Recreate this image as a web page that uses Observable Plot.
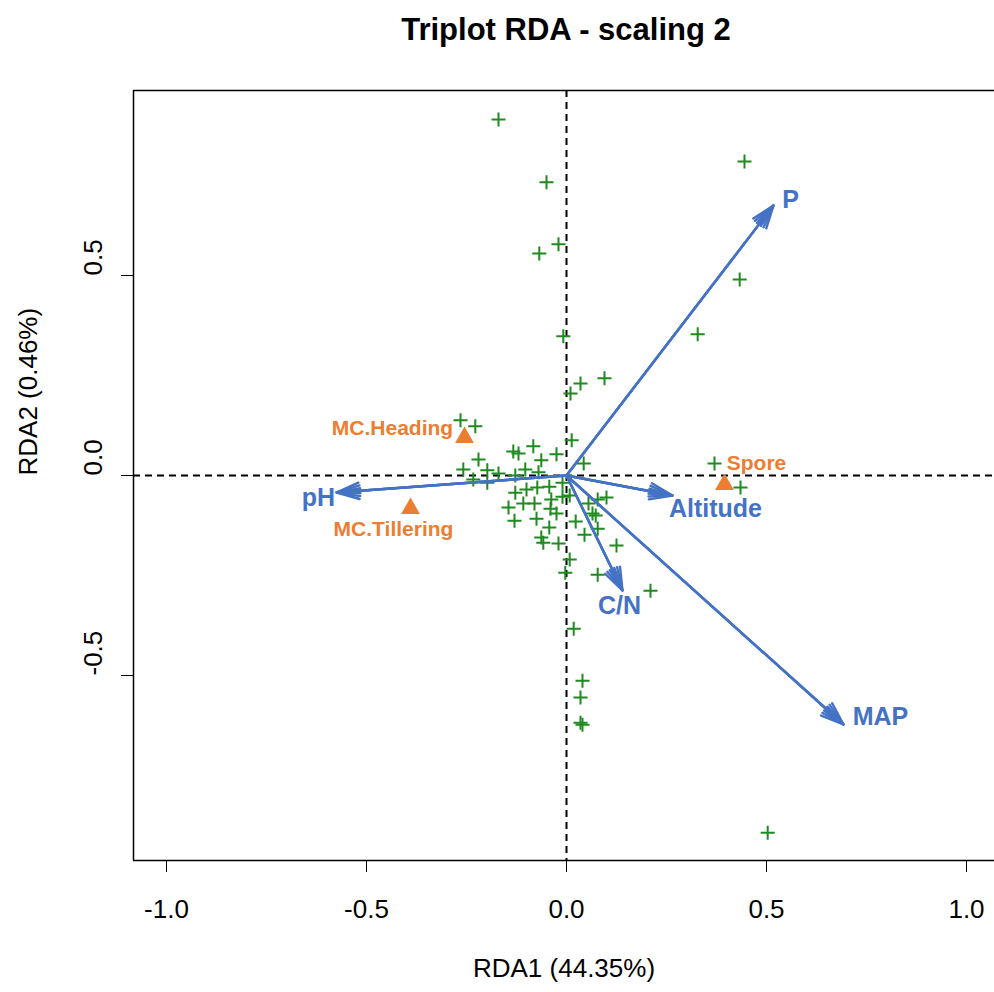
<!DOCTYPE html>
<html>
<head>
<meta charset="utf-8">
<script src="https://cdn.jsdelivr.net/npm/d3@7"></script>
<script src="https://cdn.jsdelivr.net/npm/@observablehq/plot@0.6"></script>
<style>
  html, body { margin: 0; padding: 0; background: #fff; overflow: hidden; width: 994px; }
  #title { font: bold 31px "Liberation Sans", Arial, sans-serif; margin-left: 133px; width: 866px;
           height: 60px; line-height: 60px; text-align: center; color: #000; }
  svg { display: block; font-family: "Liberation Sans", Arial, sans-serif; }
</style>
</head>
<body>
<div id="title">Triplot RDA - scaling 2</div>
<div id="chart"></div>
<script>
// Site scores (green crosses)
const siteRDA1 = [-0.170, -0.050, -0.020, -0.068, -0.008, 0.445, 0.433, 0.328, 0.095, 0.035,
  0.010, -0.265, -0.228, 0.013, -0.083, -0.133, -0.120, -0.025, -0.220, -0.063,
  0.043, 0.370, -0.258, -0.198, -0.170, -0.103, -0.070, -0.128, -0.233, -0.198,
  -0.010, 0.435, -0.128, -0.100, -0.073, -0.043, -0.145, -0.108, -0.080, -0.038,
  -0.010, 0.008, -0.040, -0.025, -0.130, -0.075, -0.043, 0.023, -0.063, -0.058,
  -0.020, 0.055, 0.078, 0.100, 0.065, 0.073, 0.045, 0.078, 0.125, 0.008,
  -0.003, 0.078, 0.210, 0.018, 0.040, 0.035, 0.035, 0.040, 0.503];
const siteRDA2 = [0.890, 0.733, 0.578, 0.555, 0.348, 0.785, 0.490, 0.353, 0.243, 0.230,
  0.205, 0.138, 0.123, 0.088, 0.073, 0.060, 0.055, 0.053, 0.040, 0.038,
  0.030, 0.030, 0.015, 0.013, 0.005, 0.015, 0.008, 0.000, -0.010, -0.018,
  -0.018, -0.030, -0.043, -0.035, -0.030, -0.028, -0.080, -0.070, -0.070, -0.060,
  -0.053, -0.050, -0.083, -0.095, -0.113, -0.108, -0.130, -0.115, -0.155, -0.168,
  -0.170, -0.070, -0.060, -0.055, -0.095, -0.100, -0.148, -0.133, -0.175, -0.210,
  -0.243, -0.248, -0.288, -0.383, -0.513, -0.555, -0.618, -0.623, -0.893];

// Species scores (orange triangles)
const species = ["MC.Heading", "MC.Tillering", "Spore"];
const spRDA1 = [-0.255, -0.390, 0.395];
const spRDA2 = [0.095, -0.0825, -0.0225];
const spLabelRDA1 = [-0.435, -0.4325, 0.475];
const spLabelRDA2 = [0.1175, -0.135, 0.030];

// Environmental variables (blue arrows)
const envVars = ["P", "pH", "Altitude", "C/N", "MAP"];
const envRDA1 = [0.5175, -0.575, 0.265, 0.140, 0.6925];
const envRDA2 = [0.675, -0.0425, -0.050, -0.2875, -0.6225];
const envLabelRDA1 = [0.560, -0.620, 0.3725, 0.1325, 0.785];
const envLabelRDA2 = [0.690, -0.055, -0.0825, -0.325, -0.6025];

// Axis ticks and limits
const xTicks = [-1.0, -0.5, 0.0, 0.5, 1.0];
const yTicks = [-0.5, 0.0, 0.5];
const xDomain = [-1.0825, 1.07];
const yDomain = [-0.9625, 0.9625];

const sites = siteRDA1.map((x, i) => ({x, y: siteRDA2[i]}));
const spp = species.map((name, i) => ({name, x: spRDA1[i], y: spRDA2[i], lx: spLabelRDA1[i], ly: spLabelRDA2[i]}));
const env = envVars.map((name, i) => ({name, x: envRDA1[i], y: envRDA2[i], lx: envLabelRDA1[i], ly: envLabelRDA2[i]}));

const blue = "#4472C4", orange = "#ED7D31", green = "#1F8A1F";
const fmt = d => d.toFixed(1);

const arrowOpts = (angle) => ({x1: () => 0, y1: () => 0, x2: "x", y2: "y",
  stroke: blue, strokeWidth: 2.4, headLength: 15, headAngle: angle});

const chart = Plot.plot({
  width: 994, height: 932,
  marginLeft: 133, marginRight: 0, marginTop: 30, marginBottom: 132,
  x: {domain: xDomain, axis: null},
  y: {domain: yDomain, axis: null},
  style: {fontFamily: '"Liberation Sans", Arial, sans-serif', color: "#000", overflow: "visible"},
  marks: [
    Plot.ruleX([0], {stroke: "#000", strokeWidth: 2, strokeDasharray: "7,5"}),
    Plot.ruleY([0], {stroke: "#000", strokeWidth: 2, strokeDasharray: "7,5"}),
    Plot.dot(sites, {x: "x", y: "y", symbol: "plus", r: 4.6, stroke: green, strokeWidth: 2}),
    Plot.dot(spp, {x: "x", y: "y", symbol: "triangle", r: 7, fill: orange, stroke: "none"}),
    Plot.arrow(env, arrowOpts(40)),
    Plot.arrow(env, arrowOpts(26)),
    Plot.arrow(env, arrowOpts(12)),
    Plot.text(env, {x: "lx", y: "ly", text: "name", fill: blue, fontSize: 25, fontWeight: "bold"}),
    Plot.text(spp, {x: "lx", y: "ly", text: "name", fill: orange, fontSize: 21, fontWeight: "bold"}),
    Plot.ruleX([xDomain[0]], {stroke: "#000", strokeWidth: 1.5}),
    Plot.ruleY(yDomain, {stroke: "#000", strokeWidth: 1.5}),
    Plot.axisX(xTicks, {tickSize: 12, tickPadding: 27, tickFormat: fmt, fontSize: 26, label: null, stroke: "#000"}),
    Plot.axisY(yTicks, {tickSize: 12, tickFormat: () => "", label: null, stroke: "#000"}),
    Plot.text(yTicks, {y: d => d, text: d => fmt(d), frameAnchor: "left", dx: -40, rotate: -90, fontSize: 26}),
    Plot.text(["RDA1 (44.35%)"], {frameAnchor: "bottom", dy: 116, fontSize: 26}),
    Plot.text(["RDA2 (0.46%)"], {frameAnchor: "left", dx: -105, rotate: -90, fontSize: 26})
  ]
});
document.getElementById("chart").appendChild(chart);
</script>
</body>
</html>
